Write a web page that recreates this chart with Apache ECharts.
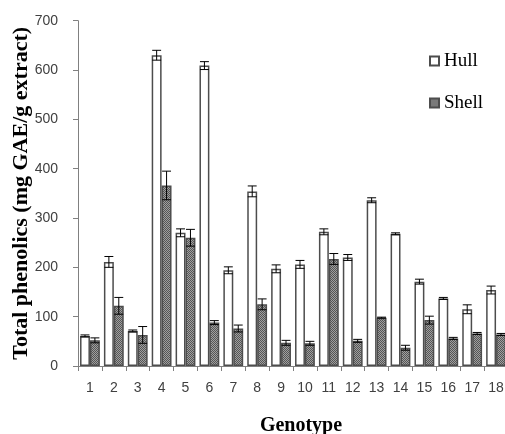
<!DOCTYPE html>
<html>
<head>
<meta charset="utf-8">
<script src="https://cdn.jsdelivr.net/npm/echarts@6/dist/echarts.min.js"></script>
<style>html,body{margin:0;padding:0;background:#fff}#c{width:505px;height:434px}</style>
</head>
<body>
<div id="c"></div>
<script>
const genotypes = ['1','2','3','4','5','6','7','8','9','10','11','12','13','14','15','16','17','18'];
const hull      = [61, 211, 71, 630, 270, 609, 194, 354, 197, 206, 272, 220, 336, 268, 171, 137, 115, 154];
const hullErr   = [2, 11, 2, 10, 8, 8, 7, 11, 8, 8, 6, 6, 5, 2, 5, 2, 9, 8];
const shell     = [52, 122, 63, 366, 260, 88, 76, 125, 47, 46, 217, 51, 98, 37, 93, 56, 66, 64];
const shellErr  = [5, 17, 17, 29, 17, 4, 7, 11, 5, 4, 11, 3, 1, 5, 8, 2, 2, 2];
const yTicks    = [0, 100, 200, 300, 400, 500, 600, 700];

const patCanvas = document.createElement('canvas');
patCanvas.width = 2; patCanvas.height = 2;
const pctx = patCanvas.getContext('2d');
pctx.fillStyle = '#a0a0a0'; pctx.fillRect(0,0,2,2);
pctx.fillStyle = '#555555'; pctx.fillRect(0,0,1,1); pctx.fillRect(1,1,1,1);

const catGapPct = 17;
function errSeries(vals, errs, side) {
  return {
    type: 'custom',
    silent: true,
    z: 5,
    data: vals.map((v, i) => [i, v, errs[i]]),
    renderItem: function (params, api) {
      const i = api.value(0), v = api.value(1), e = api.value(2);
      const band = api.size([1, 0])[0];
      const bw = band * (1 - catGapPct / 100) / 2;
      const top = api.coord([i, v + e]);
      const bot = api.coord([i, v - e]);
      const x = top[0] + side * bw / 2;
      const cap = bw * 0.45;
      const st = { stroke: '#000', lineWidth: 1 };
      return { type: 'group', children: [
        { type: 'line', shape: { x1: x, y1: top[1], x2: x, y2: bot[1] }, style: st },
        { type: 'line', shape: { x1: x - cap, y1: top[1], x2: x + cap, y2: top[1] }, style: st },
        { type: 'line', shape: { x1: x - cap, y1: bot[1], x2: x + cap, y2: bot[1] }, style: st }
      ]};
    }
  };
}

const chart = echarts.init(document.getElementById('c'), null, { renderer: 'canvas' });
chart.setOption({
  animation: false,
  backgroundColor: '#fff',
  grid: { left: 78, top: 20.7, bottom: 68, right: -3, containLabel: false, outerBoundsMode: 'none' },
  legend: {
    orient: 'vertical', left: 429, top: 51, padding: 0,
    itemWidth: 9, itemHeight: 9, itemGap: 22, icon: 'rect',
    textStyle: { fontFamily: 'Liberation Serif', fontSize: 19, color: '#000', lineHeight: 20 },
    data: ['Hull', 'Shell']
  },
  xAxis: {
    type: 'category', data: genotypes,
    name: 'Genotype', nameLocation: 'middle', nameGap: 50,
    nameTextStyle: { fontFamily: 'Liberation Serif', fontWeight: 'bold', fontSize: 20, color: '#000', padding: [0, 0, 0, 16] },
    axisLine: { lineStyle: { color: '#808080', width: 1 } },
    axisTick: { show: true, length: 5, lineStyle: { color: '#808080' } },
    axisLabel: { margin: 15, fontFamily: 'Liberation Sans', fontSize: 14, color: '#404040' }
  },
  yAxis: {
    type: 'value', min: yTicks[0], max: yTicks[yTicks.length - 1], interval: 100,
    name: 'Total phenolics (mg GAE/g extract)', nameLocation: 'middle', nameGap: 46,
    nameMoveOverlap: false,
    nameTextStyle: { fontFamily: 'Liberation Serif', fontWeight: 'bold', fontSize: 22, color: '#000' },
    axisLine: { show: true, lineStyle: { color: '#808080', width: 1 } },
    axisTick: { show: true, length: 5, lineStyle: { color: '#808080' } },
    splitLine: { show: false },
    axisLabel: { margin: 20, fontFamily: 'Liberation Sans', fontSize: 14, color: '#404040' }
  },
  series: [
    { name: 'Hull', type: 'bar', data: hull, barGap: '0%', barCategoryGap: catGapPct + '%',
      itemStyle: { color: '#fff', borderColor: '#4d4d4d', borderWidth: 1.5 } },
    { name: 'Shell', type: 'bar', data: shell, barGap: '0%', barCategoryGap: catGapPct + '%',
      itemStyle: { color: { image: patCanvas, repeat: 'repeat' }, borderColor: '#4d4d4d', borderWidth: 1.5 } },
    errSeries(hull, hullErr, -1),
    errSeries(shell, shellErr, 1)
  ]
});
</script>
</body>
</html>
